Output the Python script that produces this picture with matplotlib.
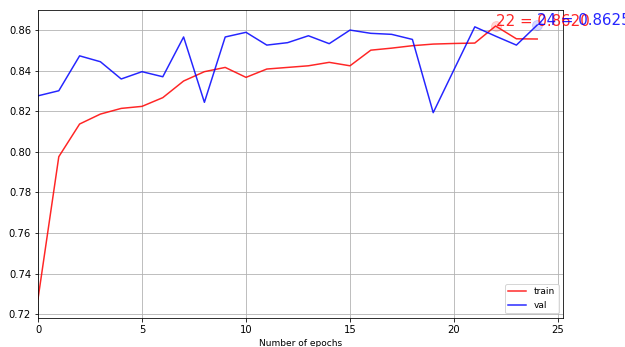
import numpy as np
import matplotlib
matplotlib.use("Agg")
import matplotlib.pyplot as plt

# accuracy per epoch
epochs = np.arange(25)
train_acc = [0.7275, 0.7976, 0.8137, 0.8186, 0.8214, 0.8224, 0.8267, 0.8349,
             0.8395, 0.8416, 0.8367, 0.8408, 0.8416, 0.8424, 0.8441, 0.8424,
             0.8501, 0.8511, 0.8523, 0.8531, 0.8534, 0.8536, 0.8620, 0.8557,
             0.8556]
val_acc = [0.8276, 0.8301, 0.8473, 0.8444, 0.8359, 0.8395, 0.8370, 0.8566,
           0.8244, 0.8566, 0.8589, 0.8526, 0.8538, 0.8572, 0.8533, 0.8600,
           0.8584, 0.8579, 0.8554, 0.8193, 0.8405, 0.8616, 0.8570, 0.8526,
           0.8625]

fig = plt.figure(figsize=(625 / 72, 347 / 72), dpi=72)
ax = fig.add_subplot(111)
fig.subplots_adjust(left=0.0608, right=0.9008, bottom=0.0836, top=0.9712)

ax.plot(epochs, train_acc, color='red', alpha=0.85, label='train')
ax.plot(epochs, val_acc, color='blue', alpha=0.85, label='val')

# mark best epoch of each curve
for vals, c in [(train_acc, 'red'), (val_acc, 'blue')]:
    best = int(np.argmax(vals))
    ax.plot(best, vals[best], 'o', color=c, alpha=0.15, markersize=10)
    ax.text(best, vals[best], f"{best} = {vals[best]:.4f}", color=c,
            fontsize=15, alpha=0.85)

ax.set_xlim(0, 25.24)
ax.set_ylim(0.7181, 0.8699)
ax.set_xticks([0, 5, 10, 15, 20, 25])
ax.set_yticks([0.72, 0.74, 0.76, 0.78, 0.80, 0.82, 0.84, 0.86])
ax.set_yticklabels([f"{t:.2f}" for t in ax.get_yticks()])
ax.set_xlabel("Number of epochs", fontsize=9)
ax.grid(True)
ax.legend(loc='lower right', fontsize=9)

fig.savefig("out.png", dpi=72)
